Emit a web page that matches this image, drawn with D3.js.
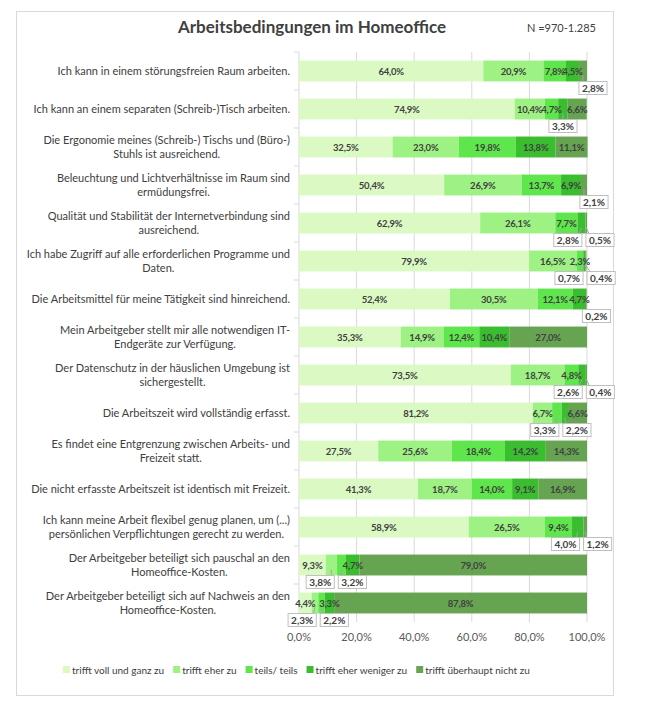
<!DOCTYPE html>
<html>
<head>
<meta charset="utf-8">
<script src="https://cdn.jsdelivr.net/npm/d3@7"></script>
<style>
  body { margin: 0; background: #fff; }
  text { font-family: Lato, "Open Sans", sans-serif; }
</style>
</head>
<body>
<div id="chart"></div>
<script>
// categories (line breaks as in the original labels)
var categories = [
  "Ich kann in einem störungsfreien Raum arbeiten.",
  "Ich kann an einem separaten (Schreib-)Tisch arbeiten.",
  "Die Ergonomie meines (Schreib-) Tischs und (Büro-)\nStuhls ist ausreichend.",
  "Beleuchtung und Lichtverhältnisse im Raum sind\nermüdungsfrei.",
  "Qualität und Stabilität der Internetverbindung sind\nausreichend.",
  "Ich habe Zugriff auf alle erforderlichen Programme und\nDaten.",
  "Die Arbeitsmittel für meine Tätigkeit sind hinreichend.",
  "Mein Arbeitgeber stellt mir alle notwendigen IT-\nEndgeräte zur Verfügung.",
  "Der Datenschutz in der häuslichen Umgebung ist\nsichergestellt.",
  "Die Arbeitszeit wird vollständig erfasst.",
  "Es findet eine Entgrenzung zwischen Arbeits- und\nFreizeit statt.",
  "Die nicht erfasste Arbeitszeit ist identisch mit Freizeit.",
  "Ich kann meine Arbeit flexibel genug planen, um (...)\npersönlichen Verpflichtungen gerecht zu werden.",
  "Der Arbeitgeber beteiligt sich pauschal an den\nHomeoffice-Kosten.",
  "Der Arbeitgeber beteiligt sich auf Nachweis an den\nHomeoffice-Kosten."
];

var seriesNames = ["trifft voll und ganz zu", "trifft eher zu", "teils/ teils",
                   "trifft eher weniger zu", "trifft überhaupt nicht zu"];

var vollUndGanz = [64.0, 74.9, 32.5, 50.4, 62.9, 79.9, 52.4, 35.3, 73.5, 81.2, 27.5, 41.3, 58.9, 9.3, 4.4];
var eherZu      = [20.9, 10.4, 23.0, 26.9, 26.1, 16.5, 30.5, 14.9, 18.7, 6.7, 25.6, 18.7, 26.5, 3.8, 2.3];
var teilsTeils  = [7.8, 4.7, 19.8, 13.7, 7.7, 2.3, 12.1, 12.4, 4.8, 3.3, 18.4, 14.0, 9.4, 3.2, 2.2];
var eherWeniger = [4.5, 3.3, 13.8, 6.9, 2.8, 0.7, 4.7, 10.4, 2.6, 2.2, 14.2, 9.1, 4.0, 4.7, 3.3];
var ueberhauptNicht = [2.8, 6.6, 11.1, 2.1, 0.5, 0.4, 0.2, 27.0, 0.4, 6.6, 14.3, 16.9, 1.2, 79.0, 87.8];

var xTicks = [0, 20, 40, 60, 80, 100];

// [row, series] whose labels sit in callout boxes below the bar
var calloutSegs = [[0,4],[1,3],[3,4],[4,3],[4,4],[5,3],[5,4],[6,4],[8,3],[8,4],
                   [9,2],[9,3],[12,3],[12,4],[13,1],[13,2],[14,1],[14,2]];

var colors = ["#dbfac3", "#9ef283", "#5fe64c", "#3bbd30", "#66a452"];

var series = [vollUndGanz, eherZu, teilsTeils, eherWeniger, ueberhauptNicht];
var fmt = function(v) { return v.toFixed(1).replace(".", ",") + "%"; };

var W = 660, H = 707;
var svg = d3.select("#chart").append("svg").attr("width", W).attr("height", H);

// frame
svg.append("rect").attr("x", 16.5).attr("y", 11.5).attr("width", 597).attr("height", 684)
  .attr("fill", "#fff").attr("stroke", "#d9d9d9");

// title
svg.append("text").attr("x", 312).attr("y", 33).attr("text-anchor", "middle")
  .attr("font-size", 17).attr("font-weight", "bold").attr("fill", "#404040")
  .text("Arbeitsbedingungen im Homeoffice");
svg.append("text").attr("x", 527).attr("y", 32).attr("font-size", 11).attr("fill", "#404040")
  .text("N =970-1.285");

// scales
var x = d3.scaleLinear().domain([0, 100]).range([299, 587]);
var y = d3.scaleBand().domain(d3.range(categories.length)).range([52, 622])
  .paddingInner(0.45).paddingOuter(0.225);

// grid
svg.append("g").selectAll("line").data(xTicks.slice(1)).join("line")
  .attr("x1", function(d) { return x(d); }).attr("x2", function(d) { return x(d); })
  .attr("y1", 52).attr("y2", 622).attr("stroke", "#d9d9d9");

// category axis line + ticks
svg.append("line").attr("x1", 299).attr("x2", 299).attr("y1", 52).attr("y2", 622).attr("stroke", "#d9d9d9");
svg.append("g").selectAll("line").data(d3.range(categories.length + 1)).join("line")
  .attr("x1", 294).attr("x2", 299)
  .attr("y1", function(i) { return 52 + i * y.step(); })
  .attr("y2", function(i) { return 52 + i * y.step(); })
  .attr("stroke", "#d9d9d9");

// x axis labels
svg.append("g").selectAll("text").data(xTicks).join("text")
  .attr("x", function(d) { return x(d); }).attr("y", 641)
  .attr("text-anchor", "middle").attr("font-size", 11).attr("fill", "#595959")
  .text(function(d) { return d.toFixed(1).replace(".", ",") + "%"; });

// category labels: block right-aligned, lines centred
var catG = svg.append("g");
categories.forEach(function(c, i) {
  var lines = c.split("\n");
  var cy = y(i) + y.bandwidth() / 2;
  var t = catG.append("text").attr("font-size", 11).attr("fill", "#404040");
  lines.forEach(function(l, k) {
    t.append("tspan").attr("y", cy + (k - (lines.length - 1) / 2) * 13.5 + 4).text(l);
  });
  var wMax = d3.max(t.selectAll("tspan").nodes(), function(n) { return n.getComputedTextLength(); });
  t.attr("text-anchor", "middle").selectAll("tspan").attr("x", 290 - wMax / 2);
});

// stacked segments
var segs = [];
categories.forEach(function(c, i) {
  var acc = 0;
  series.forEach(function(s, j) {
    segs.push({row: i, ser: j, x0: acc, x1: acc + s[i], v: s[i]});
    acc += s[i];
  });
});
var isCallout = function(d) {
  return calloutSegs.some(function(p) { return p[0] === d.row && p[1] === d.ser; });
};

svg.append("g").selectAll("rect").data(segs).join("rect")
  .attr("x", function(d) { return x(d.x0); })
  .attr("width", function(d) { return Math.max(0, x(d.x1) - x(d.x0)); })
  .attr("y", function(d) { return y(d.row); })
  .attr("height", y.bandwidth())
  .attr("fill", function(d) { return colors[d.ser]; });

// inline labels
svg.append("g").selectAll("text").data(segs.filter(function(d) { return !isCallout(d); })).join("text")
  .attr("x", function(d) { return x((d.x0 + d.x1) / 2); })
  .attr("y", function(d) { return y(d.row) + y.bandwidth() / 2 + 3.5; })
  .attr("text-anchor", "middle").attr("font-size", 9.5).attr("font-weight", "bold")
  .attr("letter-spacing", -0.2)
  .attr("fill", "#404040").text(function(d) { return fmt(d.v); });

// callouts
var calG = svg.append("g");
d3.groups(segs.filter(isCallout), function(d) { return d.row; }).forEach(function(g) {
  var items = g[1];
  var boxes = items.map(function(d) {
    var t = calG.append("text").attr("font-size", 10).attr("font-weight", "bold")
      .attr("fill", "#404040").attr("text-anchor", "middle").text(fmt(d.v));
    return {d: d, t: t, w: t.node().getComputedTextLength() + 6, cx: x((d.x0 + d.x1) / 2)};
  });
  var gap = 4;
  var total = d3.sum(boxes, function(b) { return b.w; }) + gap * (boxes.length - 1);
  var mid = d3.mean(boxes, function(b) { return b.cx; });
  if (boxes.length === 1 && items[0].ser === 4) mid += 10;
  var bx = mid - total / 2;
  var top = y(items[0].row) + y.bandwidth() / 2 + 10.5;
  boxes.forEach(function(b) {
    var ex = Math.max(bx + 3, Math.min(bx + b.w - 3, b.cx));
    calG.insert("line", "text").attr("x1", b.cx).attr("y1", top - 6).attr("x2", ex).attr("y2", top)
      .attr("stroke", "#a6a6a6");
    calG.insert("rect", "text").attr("x", bx).attr("y", top).attr("width", b.w).attr("height", 13)
      .attr("fill", "#fff").attr("stroke", "#bfbfbf");
    b.t.attr("x", bx + b.w / 2).attr("y", top + 10);
    bx += b.w + gap;
  });
});

// legend
var lx = 63;
seriesNames.forEach(function(n, j) {
  svg.append("rect").attr("x", lx).attr("y", 666).attr("width", 7).attr("height", 7).attr("fill", colors[j]);
  var t = svg.append("text").attr("x", lx + 9).attr("y", 673.5).attr("font-size", 10)
    .attr("fill", "#404040").text(n);
  lx += 9 + t.node().getComputedTextLength() + 9;
});
</script>
</body>
</html>
